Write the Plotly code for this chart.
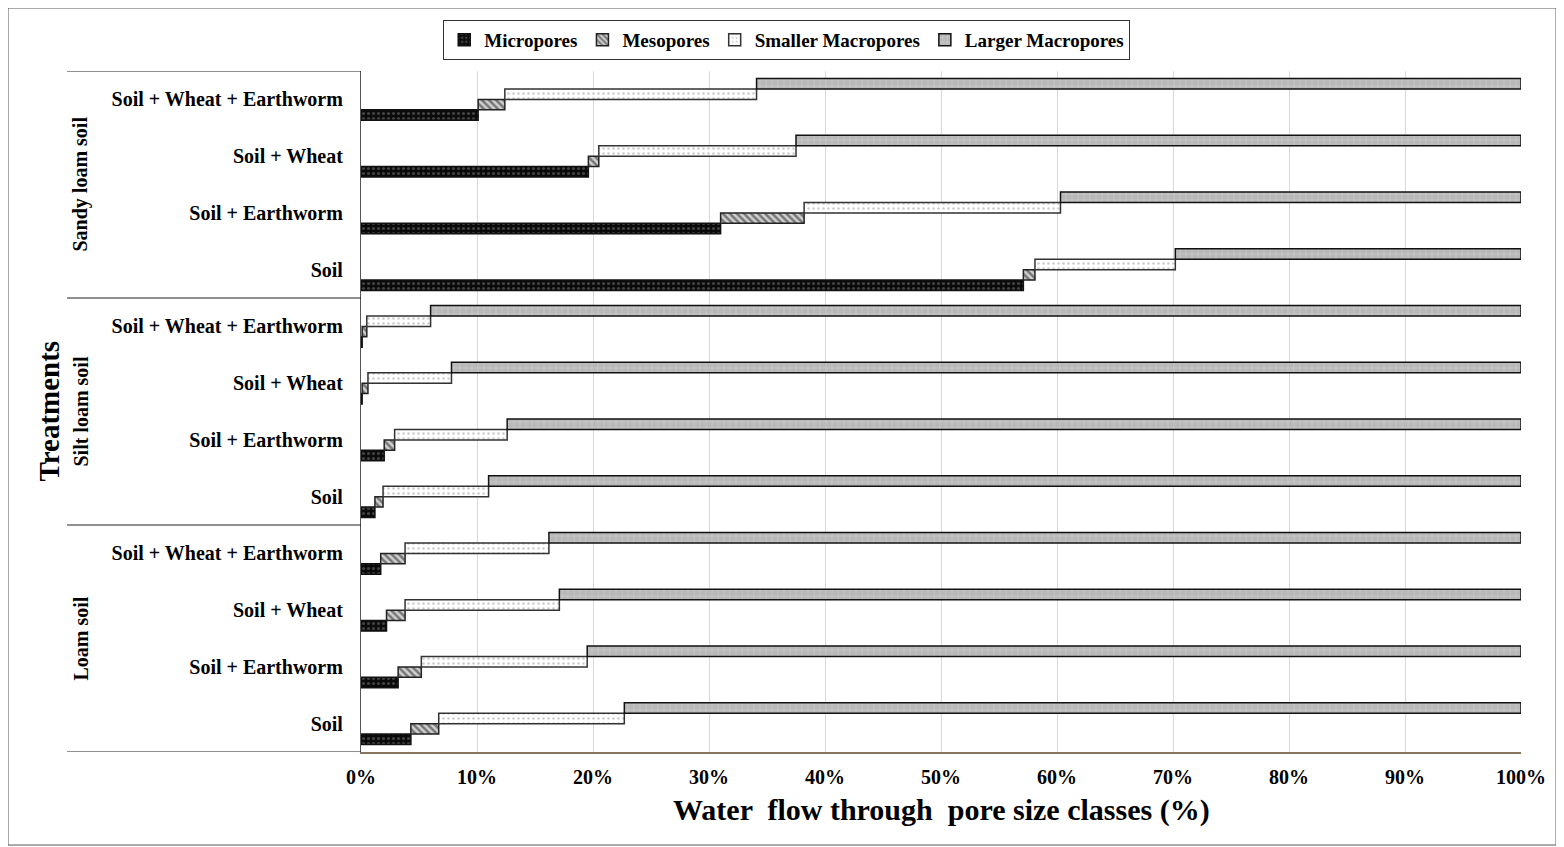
import plotly.graph_objects as go

# Categories listed bottom-to-top
soil_groups = ["Loam soil", "Silt loam soil", "Sandy loam soil"]
treatments = ["Soil", "Soil + Earthworm", "Soil + Wheat", "Soil + Wheat + Earthworm"]
cat_keys = [f"{g}|{t}" for g in soil_groups for t in treatments]
cat_labels = [t for g in soil_groups for t in treatments]

series_names = ["Micropores", "Mesopores", "Smaller Macropores", "Larger Macropores"]
micropores = [4.3, 3.2, 2.2, 1.7, 1.2, 2.0, 0.1, 0.1, 57.1, 31.0, 19.6, 10.1]
mesopores = [2.4, 2.0, 1.6, 2.1, 0.7, 0.9, 0.5, 0.4, 1.0, 7.2, 0.9, 2.3]
smaller_macropores = [16.0, 14.3, 13.3, 12.4, 9.1, 9.7, 7.2, 5.5, 12.1, 22.1, 17.0, 21.7]
larger_macropores = [77.3, 80.5, 82.9, 83.8, 89.0, 87.4, 92.2, 94.0, 29.8, 39.7, 62.5, 65.9]

x_ticks = [0, 10, 20, 30, 40, 50, 60, 70, 80, 90, 100]
x_tick_labels = [f"{v}%" for v in x_ticks]

FONT = "Liberation Serif, Times New Roman, serif"

styles = [
    dict(color="#0a0a0a", pattern=dict(shape=".", fgcolor="#7a7a7a", bgcolor="#0a0a0a", size=5, solidity=0.3), line=dict(color="#111", width=1.5)),
    dict(color="#cfcfcf", pattern=dict(shape="\\", fgcolor="#1e1e1e", bgcolor="#d0d0d0", size=5, solidity=0.5), line=dict(color="#222", width=1.5)),
    dict(color="#ffffff", pattern=dict(shape=".", fgcolor="#9a9a9a", bgcolor="#ffffff", size=5, solidity=0.2), line=dict(color="#333", width=1.5)),
    dict(color="#b8b8b8", pattern=dict(shape="+", fgcolor="#f2f2f2", bgcolor="#b8b8b8", size=6, solidity=0.15), line=dict(color="#111", width=1.5)),
]

all_vals = [micropores, mesopores, smaller_macropores, larger_macropores]
bases = []
running = [0.0] * len(cat_keys)
for vals in all_vals:
    bases.append(list(running))
    running = [r + v for r, v in zip(running, vals)]

fig = go.Figure()
for name, vals, base, st in zip(series_names, all_vals, bases, styles):
    fig.add_trace(go.Bar(
        name=name, y=cat_keys, x=vals, base=base, orientation="h",
        marker=dict(color=st["color"], pattern=st["pattern"], line=st["line"]),
    ))

shapes = []
# separators on the left
for yv in [-0.5, 3.5, 7.5, 11.5]:
    shapes.append(dict(type="line", xref="paper", yref="y", x0=-0.2534, x1=0, y0=yv, y1=yv,
                       line=dict(color="#222", width=1.2)))
# outer border
shapes.append(dict(type="rect", xref="paper", yref="paper", x0=-0.3043, x1=1.0302, y0=-0.1366, y1=1.0925,
                   line=dict(color="#555", width=1), layer="below"))

annotations = []
for i, g in enumerate(soil_groups):
    annotations.append(dict(text=g, xref="paper", yref="y", x=-0.2422, y=4 * i + 1.5,
                            textangle=-90, showarrow=False, xanchor="center", yanchor="middle",
                            font=dict(family=FONT, size=20, color="#000", weight="bold")))
annotations.append(dict(text="Treatments", xref="paper", yref="y", x=-0.2698, y=5.5,
                        textangle=-90, showarrow=False, xanchor="center", yanchor="middle",
                        font=dict(family=FONT, size=29, color="#000", weight="bold")))
annotations.append(dict(text="Water  flow through  pore size classes (%)", xref="paper", yref="paper",
                        x=0.5, y=-0.0852, showarrow=False, xanchor="center", yanchor="middle",
                        font=dict(family=FONT, size=30, color="#000", weight="bold")))

fig.update_layout(
    width=1556, height=839,
    margin=dict(l=353, r=43, t=63, b=95),
    paper_bgcolor="white", plot_bgcolor="white",
    barmode="group", bargap=0.26, bargroupgap=0,
    font=dict(family=FONT, color="#000"),
    showlegend=True,
    legend=dict(orientation="h", x=0.367, y=1.075, xanchor="center", yanchor="top",
                bordercolor="#333", borderwidth=1, bgcolor="white",
                font=dict(family=FONT, size=19, color="#000", weight="bold"),
                traceorder="normal", tracegroupgap=0),
    xaxis=dict(range=[0, 100], tickvals=x_ticks, ticktext=x_tick_labels,
               showgrid=True, gridcolor="#d9d9d9", gridwidth=1,
               showline=True, linecolor="#86755f", linewidth=1.5,
               zeroline=False, ticks="", ticklabelstandoff=6,
               tickfont=dict(family=FONT, size=20, color="#000", weight="bold")),
    yaxis=dict(type="category", categoryorder="array", categoryarray=cat_keys,
               tickvals=cat_keys, ticktext=cat_labels,
               showline=True, linecolor="#555", linewidth=1.2,
               showgrid=False, zeroline=False, ticks="", ticklabelstandoff=13,
               tickfont=dict(family=FONT, size=20, color="#000", weight="bold"),
               range=[-0.5, 11.5]),
    shapes=shapes,
    annotations=annotations,
)

fig.write_html("out.html")
